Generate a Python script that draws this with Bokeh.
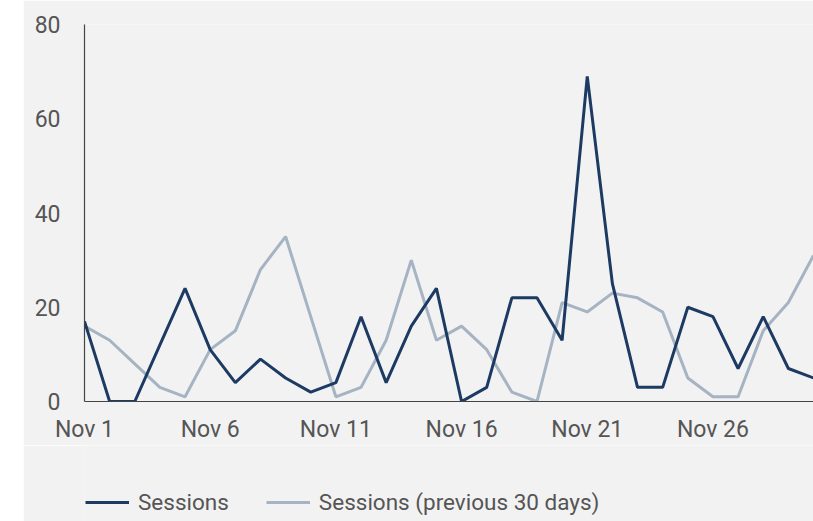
from bokeh.plotting import figure
from bokeh.models import ColumnDataSource, FixedTicker, Legend, LegendItem, Spacer
from bokeh.layouts import row, column
from bokeh.embed import file_html
from bokeh.resources import INLINE

# ---- data ----
days = list(range(1, 31))
sessions = [17, 0, 0, 12, 24, 11, 4, 9, 5, 2,
            4, 18, 4, 16, 24, 0, 3, 22, 22, 13,
            69, 25, 3, 3, 20, 18, 7, 18, 7, 5]
sessions_prev = [16, 13, 8, 3, 1, 11, 15, 28, 35, 18,
                 1, 3, 13, 30, 13, 16, 11, 2, 0, 21,
                 19, 23, 22, 19, 5, 1, 1, 15, 21, 31]
x_ticks = [1, 6, 11, 16, 21, 26]
x_tick_labels = ["Nov 1", "Nov 6", "Nov 11", "Nov 16", "Nov 21", "Nov 26"]
y_ticks = [0, 20, 40, 60, 80]
series_names = ["Sessions", "Sessions (previous 30 days)"]

DARK = "#1d3a63"
LIGHT = "#a5b3c3"
BG = "#f2f2f2"
TXT = "#555555"
FONT = "Roboto"
FS = "23px"

src = ColumnDataSource(dict(day=days, s=sessions, sp=sessions_prev))

p = figure(width=790, height=445, x_range=(1, 30), y_range=(0, 80),
           output_backend="svg", toolbar_location=None,
           min_border_left=61, min_border_right=0, min_border_top=24,
           min_border_bottom=41)
p.background_fill_color = BG
p.border_fill_color = BG
p.outline_line_color = None
p.xgrid.visible = False
p.ygrid.visible = False

r_prev = p.line("day", "sp", source=src, line_color=LIGHT, line_width=3)
r_s = p.line("day", "s", source=src, line_color=DARK, line_width=3)

for ax in (p.xaxis[0], p.yaxis[0]):
    ax.axis_line_color = "#444444"
    ax.axis_line_width = 1.2
    ax.major_tick_line_color = None
    ax.minor_tick_line_color = None
    ax.major_tick_out = 0
    ax.major_tick_in = 0
    ax.major_label_text_font = FONT
    ax.major_label_text_font_size = FS
    ax.major_label_text_color = TXT

p.xaxis.ticker = FixedTicker(ticks=x_ticks)
p.xaxis.major_label_overrides = {t: l for t, l in zip(x_ticks, x_tick_labels)}
p.xaxis.major_label_standoff = 14
p.yaxis.ticker = FixedTicker(ticks=y_ticks)
p.yaxis.major_label_standoff = 24

# legend panel (separate strip below the chart); its frame aligns with the chart's frame
lg = figure(width=790, height=76, x_range=(0, 1), y_range=(0, 1),
            output_backend="svg", toolbar_location=None,
            x_axis_location=None, y_axis_location=None,
            min_border_left=0, min_border_right=0, min_border_top=0,
            min_border_bottom=0)
lg.background_fill_color = BG
lg.border_fill_color = BG
lg.outline_line_color = None
lg.xgrid.visible = False
lg.ygrid.visible = False
# proxy glyphs for the legend only, placed outside the visible range
lr_s = lg.line(x=[5, 6], y=[5, 6], line_color=DARK, line_width=3)
lr_p = lg.line(x=[5, 6], y=[5, 6], line_color=LIGHT, line_width=3)

legend = Legend(items=[LegendItem(label=series_names[0], renderers=[lr_s]),
                       LegendItem(label=series_names[1], renderers=[lr_p])],
                orientation="horizontal", location=(1, 6))
legend.background_fill_alpha = 0
legend.border_line_color = None
legend.padding = 0
legend.margin = 0
legend.spacing = 37
legend.glyph_width = 44
legend.glyph_height = 22
legend.label_standoff = 9
legend.label_height = 22
legend.label_text_font = FONT
legend.label_text_font_size = "22.5px"
legend.label_text_color = TXT
lg.add_layout(legend, "center")

layout = row(Spacer(width=23, height=521), column(p, lg))
open("out.html", "w").write(file_html(layout, INLINE))
